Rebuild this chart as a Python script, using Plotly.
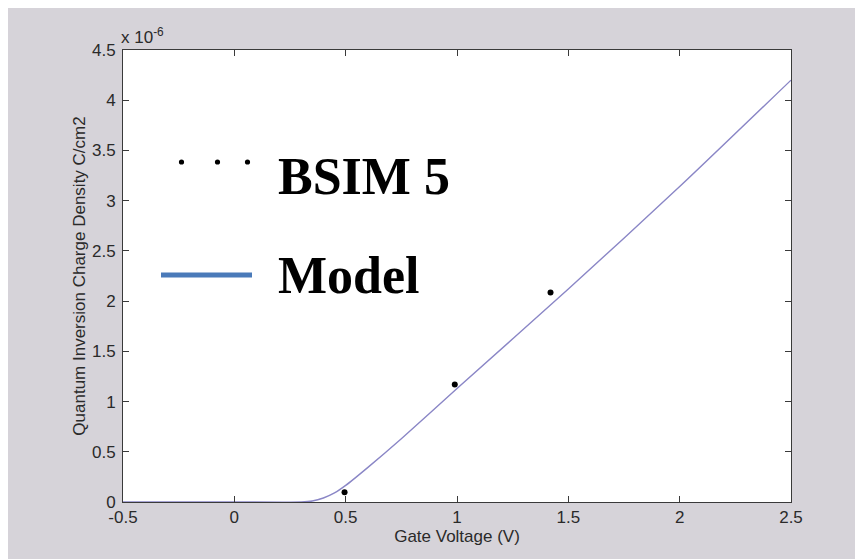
import plotly.graph_objects as go

# Model curve, y in units of 1e-6 C/cm2
model_v = [-0.5, 0.0, 0.3, 0.35, 0.4, 0.45, 0.5, 0.6, 0.75, 1.0, 1.5, 2.0, 2.5]
model_q = [0.0, 0.0, 0.0, 0.01, 0.04, 0.09, 0.165, 0.345, 0.63, 1.13, 2.12, 3.14, 4.20]

# BSIM 5 points
bsim_v = [0.495, 0.99, 1.42]
bsim_q = [0.096, 1.17, 2.085]

x_ticks = [-0.5, 0, 0.5, 1, 1.5, 2, 2.5]
x_labels = ["-0.5", "0", "0.5", "1", "1.5", "2", "2.5"]
y_ticks = [0, 0.5, 1, 1.5, 2, 2.5, 3, 3.5, 4, 4.5]
y_labels = ["0", "0.5", "1", "1.5", "2", "2.5", "3", "3.5", "4", "4.5"]

OFF = 8  # page body margin
W, H = 863 - OFF, 559 - OFF
L, R, T, B = 123 - OFF, 863 - 791, 50 - OFF, 559 - 502
pw, ph = W - L - R, H - T - B

def px(x):  # page pixel -> paper x
    return (x - OFF - L) / pw

def py(y):  # page pixel -> paper y
    return (H - B - (y - OFF)) / ph

FONT = "Liberation Sans, Arial, sans-serif"
SERIF = "Liberation Serif, Times New Roman, serif"
TXT = "#2a2a2a"

fig = go.Figure()
fig.add_trace(go.Scatter(x=model_v, y=model_q, mode="lines",
                         line=dict(color="#8a86c6", width=1.4, shape="spline", smoothing=0.6),
                         showlegend=False, hoverinfo="skip"))
fig.add_trace(go.Scatter(x=bsim_v, y=bsim_q, mode="markers",
                         marker=dict(color="black", size=6),
                         showlegend=False, hoverinfo="skip"))

shapes = [
    dict(type="line", xref="paper", yref="paper", x0=px(161), x1=px(252), y0=py(275), y1=py(275),
         line=dict(color="#4a7ab9", width=5)),
]
for dx in [181.5, 217.5, 247.5]:
    shapes.append(dict(type="circle", xref="paper", yref="paper",
                       x0=px(dx - 2.6), x1=px(dx + 2.6), y0=py(162 + 2.6), y1=py(162 - 2.6),
                       fillcolor="black", line=dict(width=0)))

annotations = [
    dict(text="BSIM 5", xref="paper", yref="paper", x=px(276), y=py(176), xanchor="left",
         yanchor="middle", showarrow=False,
         font=dict(family=SERIF, size=52, color="black", weight="bold")),
    dict(text="Model", xref="paper", yref="paper", x=px(276), y=py(275), xanchor="left",
         yanchor="middle", showarrow=False,
         font=dict(family=SERIF, size=52, color="black", weight="bold")),
    dict(text="x 10<sup>-6</sup>", xref="paper", yref="paper", x=px(119), y=py(49), xanchor="left",
         yanchor="bottom", showarrow=False,
         font=dict(family=FONT, size=17, color=TXT)),
]

axis_common = dict(showgrid=False, zeroline=False, showline=True, linecolor="#3a3a3a", linewidth=1,
                   mirror="ticks", ticks="inside", ticklen=6, tickcolor="#3a3a3a",
                   tickfont=dict(family=FONT, size=17, color=TXT))

fig.update_layout(
    width=W, height=H,
    margin=dict(l=L, r=R, t=T, b=B),
    paper_bgcolor="#d6d3d9", plot_bgcolor="white",
    shapes=shapes, annotations=annotations,
    xaxis=dict(range=[-0.5, 2.5], tickvals=x_ticks, ticktext=x_labels,
               title=dict(text="Gate Voltage (V)", standoff=3,
                          font=dict(family=FONT, size=17, color=TXT)),
               **axis_common),
    yaxis=dict(range=[0, 4.5], tickvals=y_ticks, ticktext=y_labels, ticklabelstandoff=3,
               title=dict(text="Quantum Inversion Charge Density C/cm2", standoff=2,
                          font=dict(family=FONT, size=17, color=TXT)),
               **axis_common),
)

fig.write_html("out.html")
